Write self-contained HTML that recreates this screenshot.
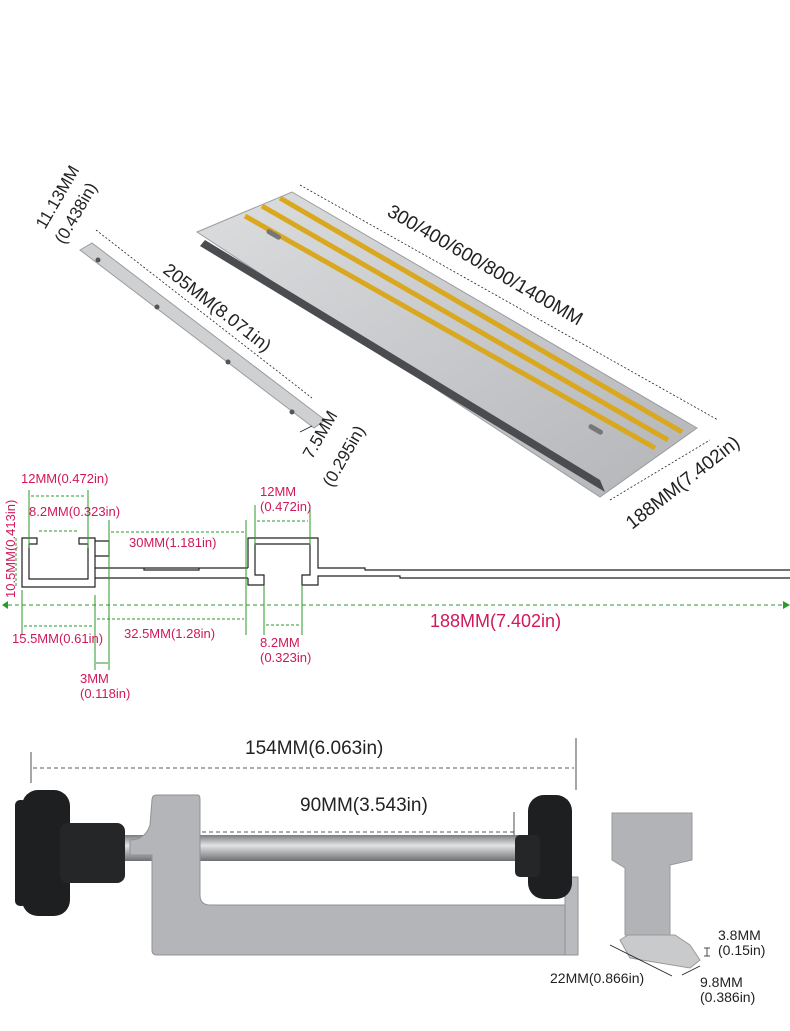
<!DOCTYPE html>
<html><head><meta charset="utf-8"><style>
body{margin:0;background:#fff;}
svg{display:block;}
text{font-family:"Liberation Sans",sans-serif;}
</style></head><body>
<svg width="790" height="1031" viewBox="0 0 790 1031" xmlns="http://www.w3.org/2000/svg">
<defs>
<linearGradient id="al" x1="0" y1="0" x2="1" y2="1"><stop offset="0" stop-color="#dcdddf"/><stop offset="1" stop-color="#b3b5b8"/></linearGradient>
<linearGradient id="scr" x1="0" y1="0" x2="0" y2="1"><stop offset="0" stop-color="#7a7d80"/><stop offset="0.4" stop-color="#e2e3e4"/><stop offset="1" stop-color="#6d7073"/></linearGradient>
</defs>
<!-- T bar -->
<polygon points="80,250 92,243 325,420 314,428" fill="#cfd0d2" stroke="#9a9c9f"/>
<circle cx="98" cy="260" r="2.5" fill="#555"/><circle cx="157" cy="307" r="2.5" fill="#555"/><circle cx="228" cy="362" r="2.5" fill="#555"/><circle cx="292" cy="412" r="2.5" fill="#555"/>
<g fill="none" stroke="#222" stroke-width="0.8">
<line x1="96" y1="230" x2="312" y2="398" stroke-dasharray="2,2"/>
<line x1="300" y1="432" x2="312" y2="426"/>
</g>
<text transform="translate(162,272) rotate(38)" font-size="18" fill="#222">205MM(8.071in)</text>
<text transform="translate(45,230) rotate(-60)" font-size="17" fill="#222">11.13MM</text>
<text transform="translate(64,245) rotate(-60)" font-size="17" fill="#222">(0.438in)</text>
<text transform="translate(312,460) rotate(-60)" font-size="17" fill="#222">7.5MM</text>
<text transform="translate(332,488) rotate(-60)" font-size="17" fill="#222">(0.295in)</text>
<!-- Rail -->
<polygon points="197,232 292,192 697,428 600,497" fill="url(#al)" stroke="#9a9c9f"/>
<polygon points="205,240 600,480 605,492 200,246" fill="#4a4c4f"/>
<line x1="245" y1="216" x2="655" y2="448" stroke="#d9a81e" stroke-width="5"/>
<line x1="262" y1="206" x2="668" y2="440" stroke="#d9a81e" stroke-width="5"/>
<line x1="280" y1="198" x2="682" y2="432" stroke="#d9a81e" stroke-width="5"/>
<rect x="266" y="232" width="16" height="5" rx="2.5" fill="#777" transform="rotate(30 274 234)"/>
<rect x="588" y="427" width="16" height="5" rx="2.5" fill="#777" transform="rotate(30 596 429)"/>
<line x1="300" y1="185" x2="718" y2="420" stroke="#222" stroke-dasharray="2,2" stroke-width="0.8"/>
<line x1="610" y1="500" x2="710" y2="440" stroke="#222" stroke-dasharray="2,2" stroke-width="0.8"/>
<text transform="translate(386,215) rotate(30)" font-size="19" fill="#222">300/400/600/800/1400MM</text>
<text transform="translate(632,530) rotate(-38)" font-size="19" fill="#222">188MM(7.402in)</text>
<!-- profile -->
<g fill="none" stroke="#222" stroke-width="1.2">
<path d="M22,538 H37 V544 H29 V579 H88 V544 H79 V538 H95 V587 H22 Z"/>
<path d="M95,541 H109 V556 H95"/>
<path d="M95,568 H248 M95,578 H248"/>
<path d="M144,568 V570 H199 V568"/>
<path d="M248,568 V538 H318 V568 H365 V570 H790"/>
<path d="M248,578 V585 H264 V575 H255 V544 H310 V575 H302 V585 H318 V576 H400 V578 H790"/>
</g>
<g stroke="#2a9a2a" stroke-width="1" fill="none">
<line x1="29" y1="490" x2="29" y2="548"/><line x1="88" y1="490" x2="88" y2="548"/>
<line x1="31" y1="496" x2="86" y2="496" stroke-dasharray="3,2"/>
<line x1="39" y1="531" x2="78" y2="531" stroke-dasharray="3,2"/>
<line x1="109" y1="520" x2="109" y2="670"/><line x1="95" y1="595" x2="95" y2="670"/>
<line x1="111" y1="532" x2="244" y2="532" stroke-dasharray="3,2"/>
<line x1="246" y1="520" x2="246" y2="635"/>
<line x1="255" y1="505" x2="255" y2="545"/><line x1="310" y1="505" x2="310" y2="545"/>
<line x1="257" y1="521" x2="308" y2="521" stroke-dasharray="3,2"/>
<line x1="22" y1="590" x2="22" y2="634"/>
<line x1="24" y1="626" x2="93" y2="626" stroke-dasharray="3,2"/>
<line x1="97" y1="619" x2="244" y2="619" stroke-dasharray="3,2"/>
<line x1="264" y1="585" x2="264" y2="635"/><line x1="302" y1="585" x2="302" y2="635"/>
<line x1="266" y1="625" x2="300" y2="625" stroke-dasharray="3,2"/>
<line x1="96" y1="663" x2="108" y2="663"/>
<line x1="16" y1="538" x2="16" y2="587" stroke-dasharray="3,2"/>
<line x1="8" y1="605" x2="786" y2="605" stroke-dasharray="4,3"/>
</g>
<polygon points="790,605 783,601 783,609" fill="#2a9a2a"/><polygon points="2,605 8,601 8,609" fill="#2a9a2a"/>
<g fill="#d0185a" font-size="13">
<text x="21" y="483">12MM(0.472in)</text>
<text x="29" y="516">8.2MM(0.323in)</text>
<text x="129" y="547">30MM(1.181in)</text>
<text x="260" y="496">12MM</text><text x="260" y="511">(0.472in)</text>
<text x="12" y="643">15.5MM(0.61in)</text>
<text x="124" y="638">32.5MM(1.28in)</text>
<text x="260" y="647">8.2MM</text><text x="260" y="662">(0.323in)</text>
<text x="80" y="683">3MM</text><text x="80" y="698">(0.118in)</text>
<text x="430" y="627" font-size="18">188MM(7.402in)</text>
<text transform="translate(15,598) rotate(-90)" font-size="13">10.5MM(0.413in)</text>
</g>
<!-- clamp -->
<g stroke="#222" stroke-width="0.8" fill="none">
<line x1="31" y1="752" x2="31" y2="783"/><line x1="576" y1="738" x2="576" y2="790"/>
<line x1="33" y1="768" x2="574" y2="768" stroke-dasharray="4,3"/>
<line x1="202" y1="832" x2="514" y2="832" stroke-dasharray="4,3"/>
<line x1="514" y1="812" x2="514" y2="838"/>
</g>
<text x="245" y="754" font-size="19" fill="#222">154MM(6.063in)</text>
<text x="300" y="811" font-size="19" fill="#222">90MM(3.543in)</text>
<rect x="120" y="835" width="400" height="26" fill="url(#scr)"/>
<path d="M152,800 Q152,795 157,795 H198 Q200,795 200,800 V895 Q200,905 210,905 H578 V955 H157 Q152,955 152,950 V855 H130 V840 Q145,840 150,825 Z" fill="#b4b5b8" stroke="#8f9194"/>
<rect x="565" y="877" width="13" height="78" fill="#b9babd" stroke="#8f9194"/>
<rect x="22" y="790" width="48" height="126" rx="16" fill="#1e1f21"/>
<rect x="15" y="800" width="12" height="106" rx="5" fill="#1e1f21"/>
<rect x="60" y="823" width="65" height="60" rx="8" fill="#252628"/>
<rect x="528" y="795" width="44" height="104" rx="16" fill="#1e1f21"/>
<rect x="515" y="835" width="25" height="42" rx="5" fill="#252628"/>
<!-- foot -->
<polygon points="612,813 692,813 692,860 670,865 670,935 625,935 625,868 612,860" fill="#b2b3b6" stroke="#999"/>
<polygon points="628,935 675,935 690,945 700,960 690,968 630,958 620,940" fill="#c9cacc" stroke="#999"/>
<g stroke="#222" stroke-width="0.8"><line x1="610" y1="945" x2="672" y2="976"/><line x1="682" y1="975" x2="700" y2="966"/><line x1="707" y1="948" x2="707" y2="956"/><line x1="704" y1="948" x2="710" y2="948"/><line x1="704" y1="956" x2="710" y2="956"/></g>
<g fill="#222" font-size="14">
<text x="718" y="940">3.8MM</text><text x="718" y="955">(0.15in)</text>
<text x="550" y="983">22MM(0.866in)</text>
<text x="700" y="987">9.8MM</text><text x="700" y="1002">(0.386in)</text>
</g>
</svg>
</body></html>
